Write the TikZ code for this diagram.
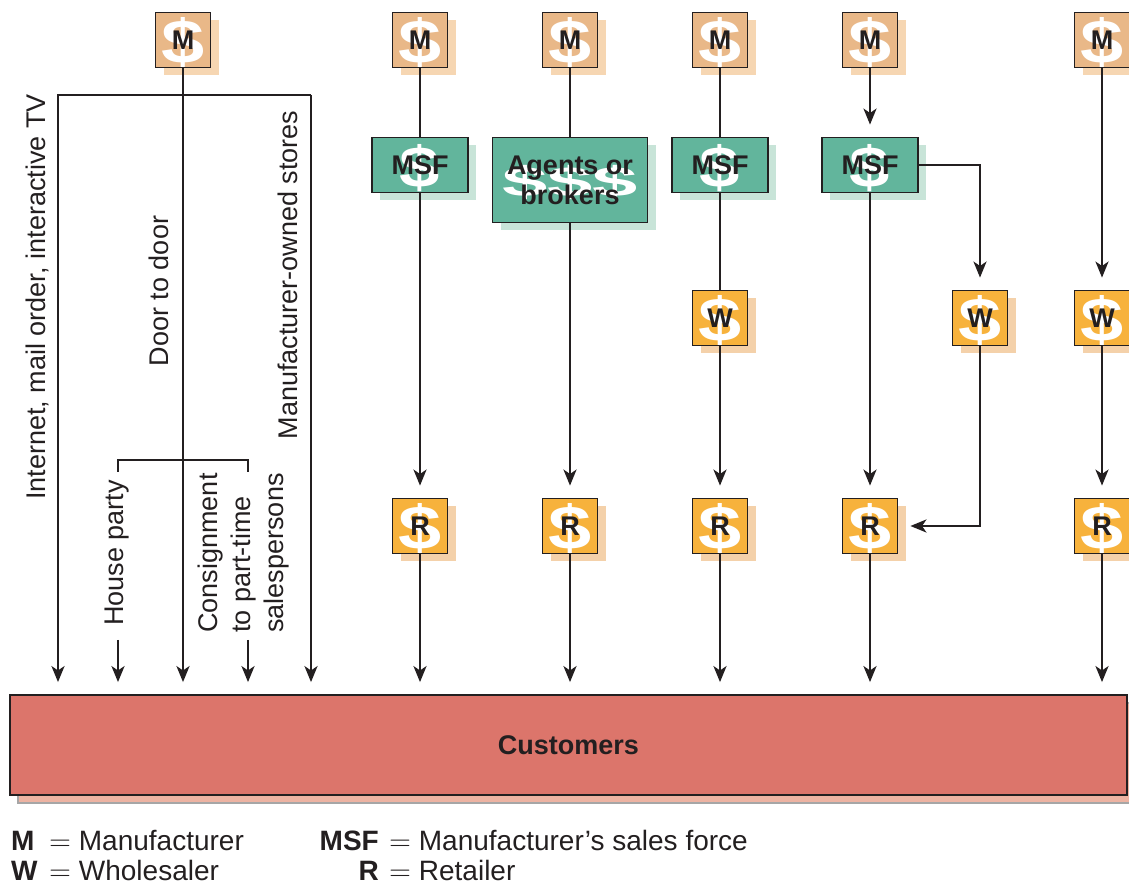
\documentclass[tikz,border=0pt]{standalone}
\usepackage{fontspec}
\setmainfont{Liberation Sans}
\usetikzlibrary{positioning,arrows.meta,calc}
\definecolor{ink}{HTML}{231F20}
\definecolor{tanfill}{HTML}{E9B888}
\definecolor{tanshade}{HTML}{F6D6B2}
\definecolor{amberfill}{HTML}{F7B23C}
\definecolor{ambershade}{HTML}{F4D1AA}
\definecolor{msfgreen}{HTML}{62B59C}
\definecolor{msfshade}{HTML}{C8E4D8}
\definecolor{custred}{HTML}{DC756B}
\definecolor{custshade}{HTML}{EDB3A2}
\tikzset{
 channel/.style={>={Stealth[length=8pt,width=6.5pt,inset=2.2pt]},
   line width=1.2pt,
   draw=ink},
 flow/.style={->,shorten >=6pt},
 box/.style={rectangle,draw=ink,line width=0.9pt,inner sep=1pt,text=ink,
   font=\fontsize{13.5}{15}\selectfont\bfseries},
 dollar/.style={path picture={\node[text=white,inner sep=0pt,font=\fontsize{#1}{#1}\selectfont\bfseries]
   at ([yshift=-1.5pt]path picture bounding box.center) {\scalebox{1.25}[1]{\$}};}},
 backdrop/.style={preaction={fill=#1,draw=none,transform canvas={shift={(4pt,-4pt)}}}},
 maker/.style={box,fill=tanfill,backdrop=tanshade,dollar=31,minimum size=27.5pt},
 trader/.style={box,fill=amberfill,backdrop=ambershade,dollar=31,minimum size=27.5pt},
 force/.style={box,fill=msfgreen,backdrop=msfshade,dollar=29,minimum width=48pt,minimum height=27.5pt},
 agents/.style={box,fill=msfgreen,backdrop=msfshade,minimum width=77.5pt,minimum height=42.5pt,align=center,
   path picture={\node[text=white,inner sep=0pt,font=\fontsize{28}{28}\selectfont\bfseries]
   at ([yshift=-1pt]path picture bounding box.center) {\scalebox{1.45}[0.75]{\$\$\$}};}},
 sidetext/.style={rotate=90,inner sep=0pt,text=ink,font=\fontsize{13.5}{16.5}\selectfont},
 legend/.style={inner sep=0pt,text=ink,font=\fontsize{14}{16}\selectfont}
}
\begin{document}
\begin{tikzpicture}[x=0.5pt,y=-0.5pt,channel]
  \useasboundingbox (0,0) rectangle (1129,886);
  \node[box,fill=custred,minimum width=558.5pt,minimum height=50pt,
    preaction={fill=custshade,draw=gray!70,line width=0.6pt,transform canvas={shift={(4pt,-4pt)}}}]
    (cust) at (568.5,745) {Customers};

  \node[maker] (m0) at (183,40) {M};
  \node[maker] (m1) at (420,40) {M};
  \node[maker] (m2) at (570,40) {M};
  \node[maker] (m3) at (720,40) {M};
  \node[maker] (m4) at (870,40) {M};
  \node[maker] (m5) at (1102,40) {M};

  \node[force] (f1) at (420,165) {MSF};
  \node[agents] (a2) at (570,180) {Agents or\\brokers};
  \node[force] (f3) at (720,165) {MSF};
  \node[force] (f4) at (870,165) {MSF};

  \node[trader] (w3) at (720,318) {W};
  \node[trader] (w4) at (980,318) {W};
  \node[trader] (w5) at (1102,318) {W};

  \node[trader] (r1) at (420,526) {R};
  \node[trader] (r2) at (570,526) {R};
  \node[trader] (r3) at (720,526) {R};
  \node[trader] (r4) at (870,526) {R};
  \node[trader] (r5) at (1102,526) {R};

  % direct channels
  \coordinate (bar) at (183,95);
  \coordinate (lft) at (58,95);
  \coordinate (rgt) at (311,95);
  \coordinate (fork) at (183,460);
  \coordinate (hp) at (118,472);
  \coordinate (cs) at (248,472);
  \coordinate (hpa) at (118,640);
  \coordinate (csa) at (248,640);
  \draw[flow] (m0) -- (m0 |- cust.north);
  \draw[flow] (rgt) -- (lft) -- (lft |- cust.north);
  \draw[flow] (rgt) -- (rgt |- cust.north);
  \draw (hp) |- (fork) -| (cs);
  \draw[flow] (hpa) -- (hpa |- cust.north);
  \draw[flow] (csa) -- (csa |- cust.north);

  \node[sidetext] (direct) at (37,297) {Internet, mail order, interactive TV};
  \node[sidetext] (door) at (159,291) {Door to door};
  \node[sidetext] (stores) at (288,275) {Manufacturer-owned stores};
  \node[sidetext] (party) at (117,553) {House party};
  \node[sidetext,align=left] (consign) at (244,553) {Consignment\\to part-time\\salespersons};

  % indirect channels
  \draw (m1) -- (f1);
  \draw[flow] (f1) -- (r1);
  \draw (m2) -- (a2);
  \draw[flow] (a2) -- (r2);
  \draw (m3) -- (f3);
  \draw (f3) -- (w3);
  \draw[flow] (w3) -- (r3);
  \draw[flow] (m4) -- (f4);
  \draw[flow] (f4) -- (r4);
  \draw[flow] (f4.east) -| (w4);
  \draw[flow] (w4) |- (r4);
  \draw[flow] (m5) -- (w5);
  \draw[flow] (w5) -- (r5);
  \foreach \r in {r1,r2,r3,r4,r5}
    \draw[flow] (\r) -- (\r |- cust.north);

  % key
  \node[legend,anchor=base west] (keyM) at (10,850) {\bfseries M};
  \node[legend,anchor=base west] (valM) at (48,850) {$=$ Manufacturer};
  \node[legend,anchor=base west] (keyW) at (10,880) {\bfseries W};
  \node[legend,anchor=base west] (valW) at (48,880) {$=$ Wholesaler};
  \node[legend,anchor=base east] (keyF) at (380,850) {\bfseries MSF};
  \node[legend,anchor=base west] (valF) at (388,850) {$=$ Manufacturer's sales force};
  \node[legend,anchor=base east] (keyR) at (380,880) {\bfseries R};
  \node[legend,anchor=base west] (valR) at (388,880) {$=$ Retailer};
\end{tikzpicture}
\end{document}
